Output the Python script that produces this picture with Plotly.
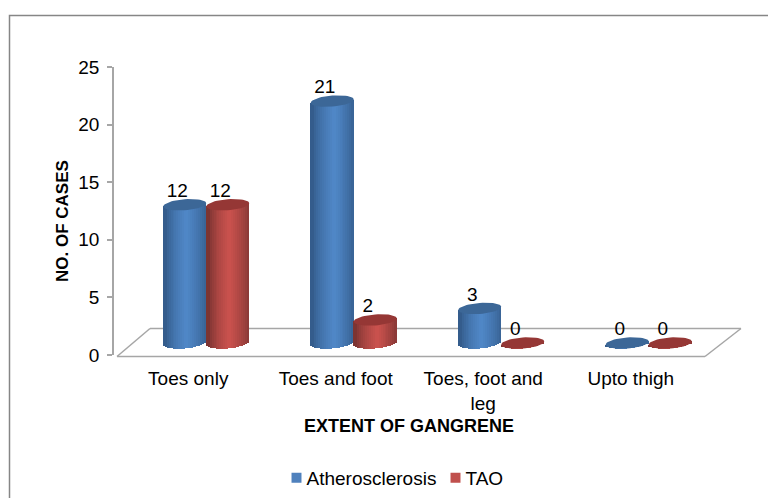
import numpy as np
import plotly.graph_objects as go

categories = ["Toes only", "Toes and foot", "Toes, foot and<br>leg", "Upto thigh"]
atherosclerosis = [12, 21, 3, 0]
tao = [12, 2, 0, 0]
y_ticks = [0, 5, 10, 15, 20, 25]

W, H = 768, 498
L, R, T, B = 114, 742, 67, 355
PX_X = 147.5            # pixels per category
PX_Y = (B - T) / 25.0   # pixels per case
X0 = -0.5 - 2 / PX_X
X1 = X0 + (R - L) / PX_X

HALF_W = 21.5 / PX_X
SHIFT = -5.0 / PX_X     # 3D floor offset of the blue bar from the tick
DEPTH = 12.0 / PX_Y     # lift of the bar foot on the 3D floor
CAP_B = 5.5 / PX_Y
SHEAR = 1.6 / PX_Y
BANDS = 22
AX = "#a6a6a6"
FS = 19


def mix(c1, c2, f):
    return "rgb(" + ",".join(str(int(round(a + (b - a) * f))) for a, b in zip(c1, c2)) + ")"


def shade(t, dark, light):
    f = 1 - min(abs(t - 0.1) / 0.95, 1.0)
    return mix(dark, light, f ** 0.7)


fig = go.Figure()
series = [
    ("Atherosclerosis", atherosclerosis, SHIFT, (52, 92, 140), (80, 136, 200), "#3c6797", "#4f81bd"),
    ("TAO", tao, SHIFT + 2 * HALF_W, (125, 52, 50), (203, 82, 78), "#953735", "#c0504d"),
]
caps = []
for name, values, shift, dark, light, cap_col, leg_col in series:
    vals = np.array(values, dtype=float)
    xs = np.arange(len(vals)) + shift
    dx = 2 * HALF_W / BANDS
    for j in range(BANDS):
        t = -1 + (2 * j + 1) / BANDS
        curve = CAP_B * np.sqrt(1 - t * t)
        tilt = SHEAR * t
        base = DEPTH + tilt - curve
        fig.add_bar(
            x=xs + t * HALF_W, y=vals + curve, base=np.full(len(vals), base), width=dx,
            marker=dict(color=shade(t, dark, light), line_width=0),
            showlegend=False, hoverinfo="skip", name=name,
        )
    ang = np.linspace(0, 2 * np.pi, 49)
    cx, cy = [], []
    for xc, v in zip(xs, vals):
        cx += list(xc + HALF_W * np.cos(ang)) + [None]
        cy += list(v + DEPTH + CAP_B * np.sin(ang) + SHEAR * np.cos(ang)) + [None]
    caps.append(go.Scatter(x=cx, y=cy, mode="lines", fill="toself", fillcolor=cap_col,
                           line=dict(width=0, color=cap_col), showlegend=False,
                           hoverinfo="skip", name=name + " top"))
for c in caps:
    fig.add_trace(c)

for name, values, shift, dark, light, cap_col, leg_col in series:
    xs = np.arange(len(values)) + shift - 7.5 / PX_X
    fig.add_trace(go.Scatter(
        x=xs, y=np.array(values) + DEPTH + 12.5 / PX_Y, mode="text",
        text=[str(v) for v in values], textposition="middle center",
        textfont=dict(size=FS, color="#000000"), cliponaxis=False,
        showlegend=False, hoverinfo="skip", name=name + " labels"))
    # legend entry
    fig.add_bar(x=[None], y=[None], name=name, marker=dict(color=leg_col, line_width=0))


def px(x):
    return (x - L) / (R - L)


def py(y):
    return (B - y) / (B - T)


floor = [(117, 356.5, 150, 328.5), (150, 328.5, 741, 328.5), (741, 328.5, 705, 356.5), (705, 356.5, 117, 356.5)]
shapes = [dict(type="line", xref="paper", yref="paper", x0=px(a), y0=py(b), x1=px(c), y1=py(d),
               line=dict(color=AX, width=1.5), layer="below") for a, b, c, d in floor]
shapes.append(dict(type="rect", xref="paper", yref="paper", x0=px(9.5), y0=py(15.5), x1=px(790), y1=py(520),
                   line=dict(color="#868686", width=1.5), layer="below"))

fig.update_layout(
    width=W, height=H, autosize=False,
    margin=dict(l=L, r=W - R, t=T, b=H - B, pad=0, autoexpand=False),
    paper_bgcolor="white", plot_bgcolor="rgba(0,0,0,0)",
    barmode="overlay", bargap=0,
    font=dict(family="Liberation Sans, Arial, sans-serif", size=FS, color="#000000"),
    shapes=shapes,
    xaxis=dict(range=[X0, X1], tickmode="array", tickvals=[k - 1.5 / PX_X for k in range(4)], ticktext=categories,
               showgrid=False, zeroline=False, showline=False, ticks="outside", ticklen=6,
               tickcolor="rgba(0,0,0,0)", tickfont=dict(size=FS), fixedrange=True),
    yaxis=dict(range=[0, 25], tickmode="array", tickvals=y_ticks, showgrid=False, zeroline=False,
               showline=True, linecolor=AX, linewidth=1.5, ticks="outside", ticklen=5, tickcolor=AX,
               tickwidth=1.5, tickfont=dict(size=FS), ticklabelstandoff=4, fixedrange=True),
    annotations=[
        dict(text="<b>EXTENT OF GANGRENE</b>", xref="paper", yref="paper", x=px(409), y=py(426),
             showarrow=False, font=dict(size=18), xanchor="center", yanchor="middle"),
        dict(text="<b>NO. OF CASES</b>", xref="paper", yref="paper", x=px(62), y=py(221), textangle=-90,
             showarrow=False, font=dict(size=17), xanchor="center", yanchor="middle"),
    ],
    legend=dict(orientation="h", x=px(266.5), y=py(478), xanchor="left", yanchor="middle",
                font=dict(size=FS), bgcolor="rgba(0,0,0,0)", traceorder="normal",
                entrywidthmode="pixels", entrywidth=114),
)
post = """
document.body.style.margin='0';document.body.style.overflow='hidden';
document.querySelectorAll('.legendsymbols path').forEach(function(p){
  p.setAttribute('transform','translate(10,0) '+(p.getAttribute('transform')||'')+' scale(0.83)');
});
"""
fig.write_html("out.html", config=dict(displayModeBar=False), post_script=post)
